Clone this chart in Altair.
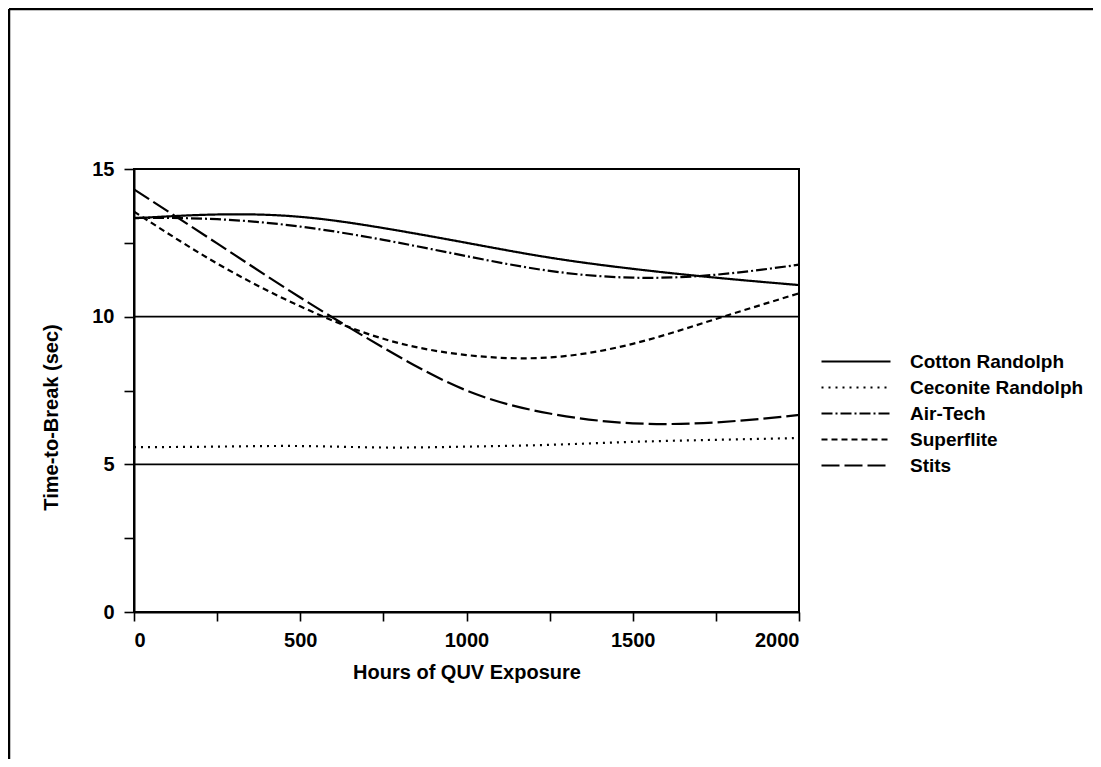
import altair as alt
import pandas as pd

hours = [0, 250, 500, 750, 1000, 1250, 1500, 1750, 2000]
cotton_randolph = [13.33, 13.46, 13.38, 13.00, 12.50, 12.00, 11.62, 11.32, 11.07]
ceconite_randolph = [5.58, 5.60, 5.62, 5.57, 5.60, 5.66, 5.76, 5.83, 5.89]
air_tech = [13.35, 13.30, 13.05, 12.60, 12.05, 11.55, 11.32, 11.42, 11.76]
superflite = [13.56, 11.80, 10.35, 9.25, 8.70, 8.62, 9.08, 9.92, 10.79]
stits = [14.31, 12.48, 10.65, 8.95, 7.50, 6.72, 6.39, 6.42, 6.67]

series_names = ["Cotton Randolph", "Ceconite Randolph", "Air-Tech", "Superflite", "Stits"]
series_values = [cotton_randolph, ceconite_randolph, air_tech, superflite, stits]
dash_styles = [[1, 0], [2, 5], [11, 3, 2, 3], [6, 4], [18, 5]]

ref_levels = [5, 10]
y_ticks = [0, 2.5, 5, 7.5, 10, 12.5, 15]
x_ticks = [0, 250, 500, 750, 1000, 1250, 1500, 1750, 2000]

rows = []
for name, vals in zip(series_names, series_values):
    for h, v in zip(hours, vals):
        rows.append({"series": name, "hours": h, "value": v})
df = pd.DataFrame(rows)
ref_df = pd.DataFrame({"level": ref_levels})
one = pd.DataFrame({"k": [0]})

FONT = "Liberation Sans"
FS = 20
W, H = 665, 443

x_enc = alt.X(
    "hours:Q",
    scale=alt.Scale(domain=[0, 2000], nice=False),
    axis=alt.Axis(
        values=x_ticks,
        labelExpr="datum.value % 500 == 0 ? datum.label : ''",
        format="d",
        title="Hours of QUV Exposure",
        grid=False,
        tickSize=9,
        labelPadding=9,
        titlePadding=12,
    ),
)
y_enc = alt.Y(
    "value:Q",
    scale=alt.Scale(domain=[0, 15], nice=False),
    axis=alt.Axis(
        values=y_ticks,
        labelExpr="datum.value % 5 == 0 ? datum.label : ''",
        format="d",
        title="Time-to-Break (sec)",
        grid=False,
        tickSize=10,
        labelPadding=10,
        titleX=-83,
        titleY=248,
        titleAngle=270,
        titleAlign="center",
        titleBaseline="middle",
    ),
)

lines = alt.Chart(df).mark_line(interpolate="natural", strokeWidth=2.2, color="black").encode(
    x=x_enc,
    y=y_enc,
    strokeDash=alt.StrokeDash(
        "series:N",
        scale=alt.Scale(domain=series_names, range=dash_styles),
        legend=alt.Legend(
            title=None,
            orient="none",
            legendX=686,
            legendY=180,
            symbolType="stroke",
            symbolSize=4761,
            symbolStrokeWidth=2.2,
            symbolStrokeColor="black",
            clipHeight=25,
            rowPadding=1,
            labelFontSize=19,
            labelFont=FONT,
            labelFontWeight="bold",
            labelColor="black",
            labelOffset=18,
            labelLimit=300,
        ),
    ),
    detail="series:N",
)

refs = alt.Chart(ref_df).mark_rule(color="black", strokeWidth=1.8).encode(
    y=alt.Y("level:Q", scale=alt.Scale(domain=[0, 15], nice=False)),
)

frame_top = alt.Chart(one).mark_rule(color="black", strokeWidth=2.5).encode(
    x=alt.value(-125), x2=alt.value(959), y=alt.value(-160)
)
frame_left = alt.Chart(one).mark_rule(color="black", strokeWidth=2.5).encode(
    x=alt.value(-125), y=alt.value(-160), y2=alt.value(590)
)

chart = (
    alt.layer(refs, lines, frame_top, frame_left)
    .properties(
        width=W,
        height=H,
        autosize=alt.AutoSizeParams(type="none"),
        padding={"left": 126, "top": 161, "right": 294, "bottom": 147},
        background="white",
    )
    .configure_view(stroke="black", strokeWidth=2)
    .configure_axis(
        domainColor="black",
        domainWidth=2,
        tickColor="black",
        tickWidth=1.6,
        labelFont=FONT,
        labelFontSize=FS,
        labelFontWeight="bold",
        labelColor="black",
        titleFont=FONT,
        titleFontSize=FS,
        titleFontWeight="bold",
        titleColor="black",
    )
)

chart.save("out.html", embed_options={"renderer": "svg", "actions": False})
